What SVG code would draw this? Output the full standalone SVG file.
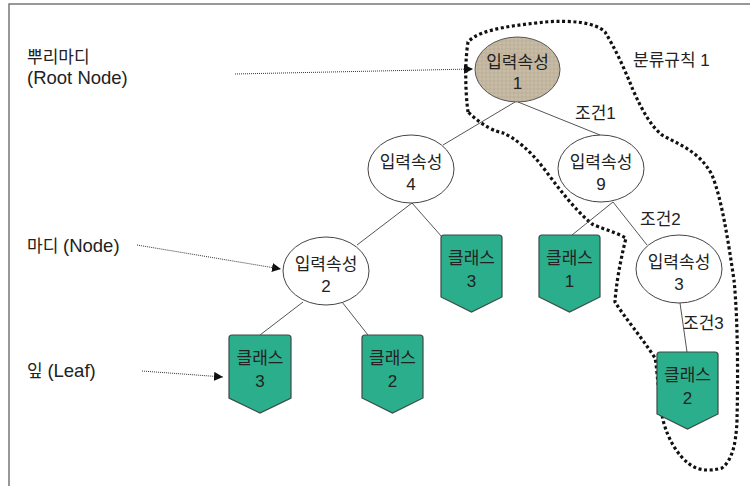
<svg xmlns="http://www.w3.org/2000/svg" width="750" height="486" viewBox="0 0 750 486">
<style>
.t{font-family:"Liberation Sans","Noto Sans CJK KR",sans-serif;font-size:17px;fill:#222;}
.lat{font-size:18.5px;}
.c{text-anchor:middle;}
.node{fill:#fff;stroke:#444;stroke-width:1;}
.root{stroke:#555;stroke-width:1;}
.leaf{fill:#2bae8b;stroke:#3c4a45;stroke-width:1.2;}
.edge{stroke:#555;stroke-width:1;fill:none;}
.ptr{stroke:#333;stroke-width:1;stroke-dasharray:1 1;fill:none;}
.rule{fill:none;stroke:#111;stroke-width:3.2;stroke-dasharray:3 2.6;}
.frame{stroke:#777;stroke-width:1.5;fill:none;}
</style>
<defs>
<marker id="ah" viewBox="0 0 10 10" refX="10" refY="5" markerWidth="9" markerHeight="9" markerUnits="userSpaceOnUse" orient="auto">
<path d="M0,0 L10,5 L0,10 Z" fill="#111"/>
</marker>
<pattern id="tex" width="4" height="4" patternUnits="userSpaceOnUse">
<rect width="4" height="4" fill="#c8bca6"/>
<path d="M0,1 H4 M2,0 V4" stroke="#b3a68e" stroke-width="0.6"/>
</pattern>
</defs>
<rect width="750" height="486" fill="#fff"/>
<path class="frame" d="M9,486 V4 H750"/>

<g id="rule">
<path class="rule" d="M468,112 C465,90 465,60 468,42 C480,28 520,25 545,22 C570,20 595,22 605,32 C615,48 625,70 633,90 C642,110 650,125 662,135 C680,145 700,152 712,175 C722,200 728,240 734,280 C738,320 738,380 737,420 C736,445 732,460 722,468 C708,472 696,470 688,463 C678,455 668,440 663,420 C658,395 657,365 655,358 C640,335 625,318 615,302 C616,285 620,262 626,238 C615,232 600,228 592,224 C575,210 560,190 545,170 C530,150 515,138 503,133 C495,131 485,128 468,112 Z"/>
</g>

<g id="connectors">
<line class="edge" x1="515" y1="102" x2="443" y2="145"/>
<line class="edge" x1="518" y1="102" x2="600" y2="135"/>
<line class="edge" x1="412" y1="203" x2="357" y2="245"/>
<line class="edge" x1="412" y1="203" x2="442" y2="237"/>
<line class="edge" x1="613" y1="202" x2="572" y2="235"/>
<line class="edge" x1="613" y1="202" x2="647" y2="245"/>
<line class="edge" x1="303" y1="302" x2="260" y2="335"/>
<line class="edge" x1="342" y1="302" x2="368" y2="335"/>
<line class="edge" x1="680" y1="303" x2="687" y2="352"/>
<line class="ptr" x1="235" y1="74" x2="473" y2="69" marker-end="url(#ah)"/>
<line class="ptr" x1="137" y1="245" x2="281" y2="269" marker-end="url(#ah)"/>
<line class="ptr" x1="142" y1="371" x2="223" y2="377" marker-end="url(#ah)"/>
</g>

<g id="root">
<ellipse class="root" cx="517.5" cy="69.5" rx="42.5" ry="32.5" fill="url(#tex)"/>
<text class="t c" x="517.5" y="68">입력속성</text>
<text class="t c" x="517.5" y="89">1</text>
</g>
<g id="n4">
<ellipse class="node" cx="411" cy="169" rx="43" ry="34"/>
<text class="t c" x="411" y="168">입력속성</text>
<text class="t c" x="411" y="190">4</text>
</g>
<g id="n9">
<ellipse class="node" cx="601" cy="168.5" rx="43" ry="33.5"/>
<text class="t c" x="601" y="168">입력속성</text>
<text class="t c" x="601" y="190">9</text>
</g>
<g id="n2">
<ellipse class="node" cx="326" cy="271" rx="43" ry="34"/>
<text class="t c" x="326" y="270">입력속성</text>
<text class="t c" x="326" y="292">2</text>
</g>
<g id="n3">
<ellipse class="node" cx="679" cy="269" rx="43" ry="34"/>
<text class="t c" x="679" y="268">입력속성</text>
<text class="t c" x="679" y="290">3</text>
</g>

<g id="c3a">
<path class="leaf" d="M441,238 Q441,235 444,235 H499 Q502,235 502,238 V297 L471.5,312 L441,297 Z"/>
<text class="t c" x="471.5" y="264">클래스</text>
<text class="t c" x="471.5" y="287">3</text>
</g>
<g id="c1">
<path class="leaf" d="M539,238 Q539,235 542,235 H597 Q600,235 600,238 V297 L569.5,312 L539,297 Z"/>
<text class="t c" x="569.5" y="264">클래스</text>
<text class="t c" x="569.5" y="287">1</text>
</g>
<g id="c3b">
<path class="leaf" d="M229,338 Q229,335 232,335 H288 Q291,335 291,338 V398 L260,413 L229,398 Z"/>
<text class="t c" x="260" y="364">클래스</text>
<text class="t c" x="260" y="387">3</text>
</g>
<g id="c2a">
<path class="leaf" d="M362,338 Q362,335 365,335 H420 Q423,335 423,338 V398 L392.5,413 L362,398 Z"/>
<text class="t c" x="392.5" y="364">클래스</text>
<text class="t c" x="392.5" y="387">2</text>
</g>
<g id="c2b">
<path class="leaf" d="M657,355 Q657,352 660,352 H715 Q718,352 718,355 V414 L687.5,429 L657,414 Z"/>
<text class="t c" x="687.5" y="381">클래스</text>
<text class="t c" x="687.5" y="404">2</text>
</g>

<g id="labels">
<text class="t" x="27" y="63">뿌리마디</text>
<text class="t lat" x="27" y="84">(Root Node)</text>
<text class="t" x="27" y="252">마디 <tspan class="lat">(Node)</tspan></text>
<text class="t" x="27" y="377">잎 <tspan class="lat">(Leaf)</tspan></text>
<text class="t" x="633" y="66">분류규칙  1</text>
<text class="t" x="575" y="119">조건1</text>
<text class="t" x="640" y="225">조건2</text>
<text class="t" x="683" y="329">조건3</text>
</g>
</svg>
